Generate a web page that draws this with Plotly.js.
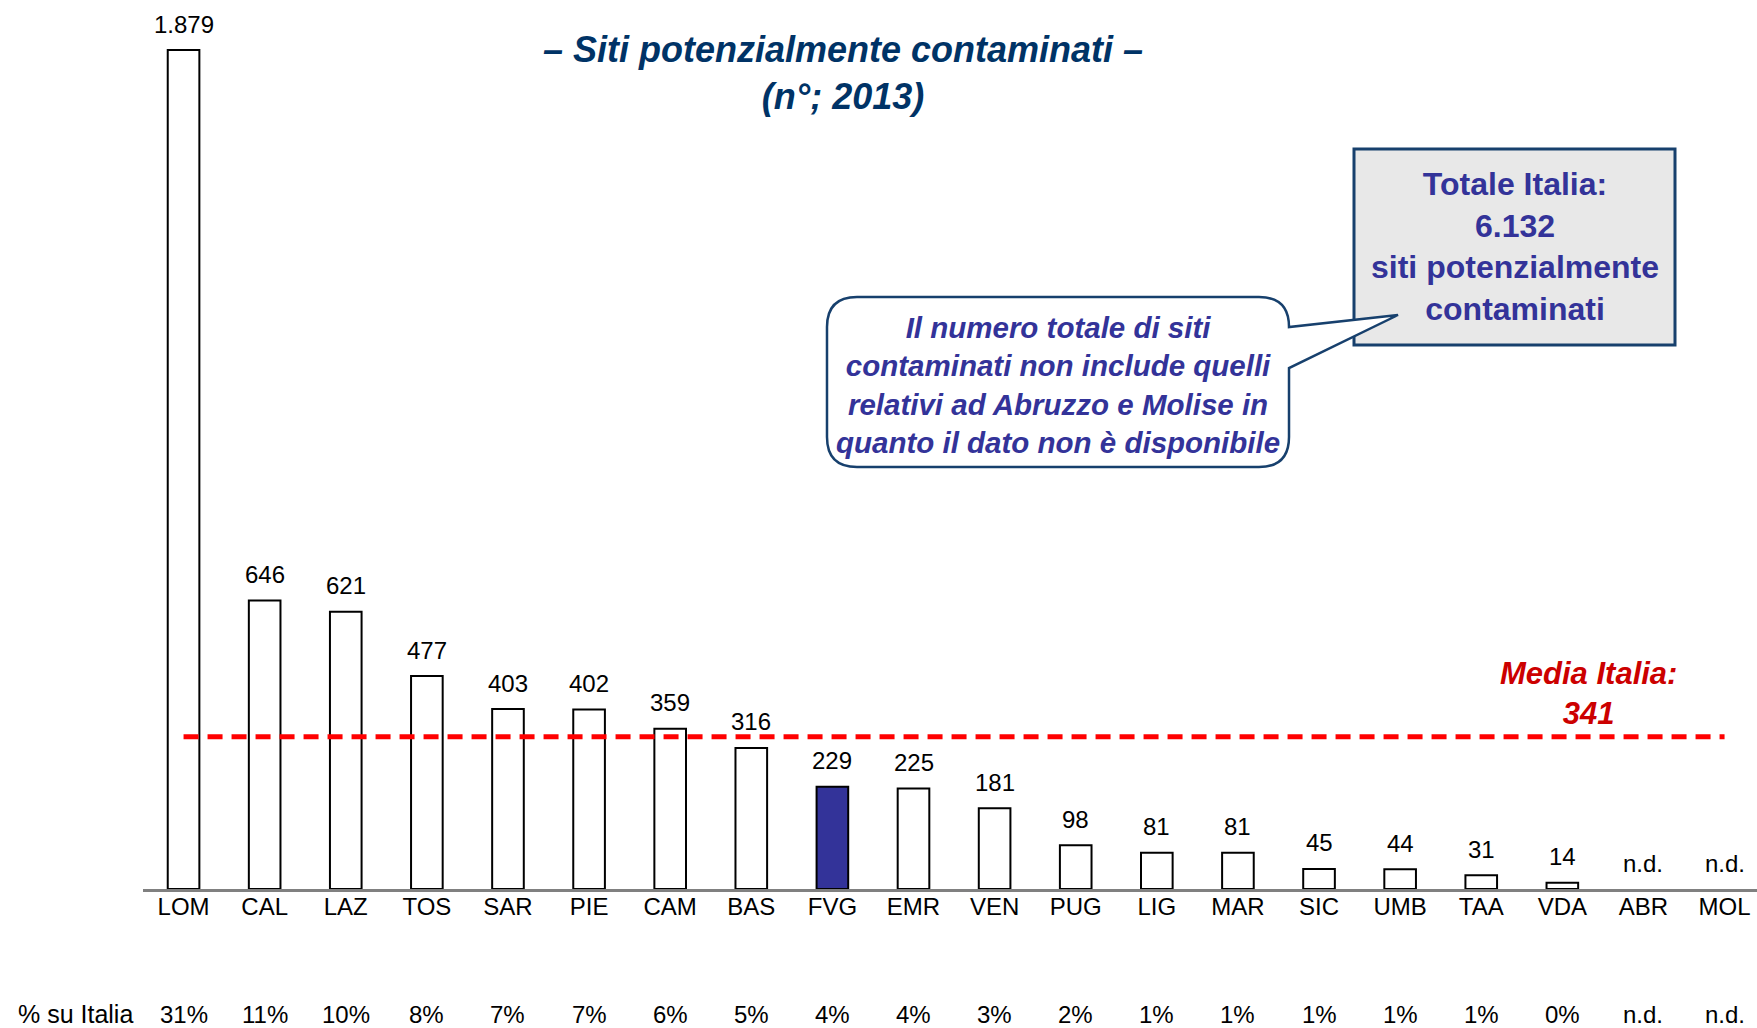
<!DOCTYPE html>
<html>
<head>
<meta charset="utf-8">
<script src="https://cdn.plot.ly/plotly-3.0.1.min.js"></script>
<style>html,body{margin:0;padding:0;background:#fff;}#chart{width:1757px;height:1028px;}</style>
</head>
<body>
<div id="chart"></div>
<script>
// ---- data ----
const regions = ["LOM","CAL","LAZ","TOS","SAR","PIE","CAM","BAS","FVG","EMR","VEN","PUG","LIG","MAR","SIC","UMB","TAA","VDA","ABR","MOL"];
const sites   = [1879,646,621,477,403,402,359,316,229,225,181,98,81,81,45,44,31,14,null,null];
const shareLabels = ["31%","11%","10%","8%","7%","7%","6%","5%","4%","4%","3%","2%","1%","1%","1%","1%","1%","0%","n.d.","n.d."];
const highlightRegion = "FVG";
const meanItaly = 341;
const totalItaly = 6132;
const titleLines = ["– Siti potenzialmente contaminati –", "(n°; 2013)"];
const noteLines = ["Il numero totale di siti", "contaminati non include quelli", "relativi ad Abruzzo e Molise in", "quanto il dato non è disponibile"];

// ---- helpers ----
const FONT = "Liberation Sans, Arial, sans-serif";
const PL = 143, PW = 1614, PH = 889;          // plot area in pixels
const px = x => (x - PL) / PW;
const py = y => (PH - y) / PH;
const fmt = v => String(v).replace(/\B(?=(\d{3})+(?!\d))/g, ".");

const barTrace = {
  type: "bar",
  x: regions,
  y: sites,
  width: 0.39,
  marker: {
    color: regions.map(r => r === highlightRegion ? "#333399" : "#FFFFFF"),
    line: {color: "#000000", width: 2}
  },
  hoverinfo: "skip"
};

const meanTrace = {
  type: "scatter",
  mode: "lines",
  x: [regions[0], regions[regions.length - 1]],
  y: [meanItaly, meanItaly],
  line: {color: "#FF0000", width: 5, dash: "15px,9px"},
  hoverinfo: "skip"
};

const annotations = [];
regions.forEach((r, i) => {
  annotations.push({
    x: r, y: sites[i] == null ? 0 : sites[i], xref: "x", yref: "y",
    text: sites[i] == null ? "n.d." : fmt(sites[i]),
    showarrow: false, yanchor: "middle", yshift: 26,
    font: {family: FONT, size: 24, color: "#000"}
  });
  annotations.push({
    x: r, y: py(1014), xref: "paper", yref: "paper",
    text: shareLabels[i], showarrow: false, yanchor: "middle",
    font: {family: FONT, size: 24, color: "#000"}
  });
});
// percent labels follow category x positions
annotations.forEach((a, k) => { if (k % 2 === 1) { a.xref = "x"; a.x = regions[(k - 1) / 2]; } });
annotations.push({
  x: px(135), y: py(1014), xref: "paper", yref: "paper",
  text: "% su Italia", showarrow: false, xanchor: "right", yanchor: "middle",
  font: {family: FONT, size: 25, color: "#000"}
});
annotations.push({
  x: px(1588), y: py(693), xref: "paper", yref: "paper",
  text: "<b><i>Media Italia:<br>" + fmt(meanItaly) + "</i></b>",
  showarrow: false, xanchor: "center", yanchor: "middle", align: "center",
  font: {family: FONT, size: 31, color: "#CC0000"}
});
annotations.push({
  x: px(1514.5), y: py(246), xref: "paper", yref: "paper",
  text: "<b>Totale Italia:<br>" + fmt(totalItaly) + "<br>siti potenzialmente<br>contaminati</b>",
  showarrow: false, xanchor: "center", yanchor: "middle", align: "center",
  font: {family: FONT, size: 32, color: "#333399"}
});
annotations.push({
  x: px(1058), y: py(385), xref: "paper", yref: "paper",
  text: "<b><i>" + noteLines.join("<br>") + "</i></b>",
  showarrow: false, xanchor: "center", yanchor: "middle", align: "center",
  font: {family: FONT, size: 29.5, color: "#333399"}
});

// callout bubble path (pixel -> paper)
const P = (x, y) => px(x).toFixed(5) + "," + py(y).toFixed(5);
const bubblePath =
  "M" + P(857,297) + " L" + P(1259,297) + " Q" + P(1289,297) + " " + P(1289,327) +
  " L" + P(1398,315) + " L" + P(1289,368) + " L" + P(1289,437) +
  " Q" + P(1289,467) + " " + P(1259,467) + " L" + P(857,467) +
  " Q" + P(827,467) + " " + P(827,437) + " L" + P(827,327) +
  " Q" + P(827,297) + " " + P(857,297) + " Z";

const shapes = [
  {type: "rect", xref: "paper", yref: "paper",
   x0: px(1354), x1: px(1675), y0: py(345), y1: py(149),
   fillcolor: "#E8E8E8", line: {color: "#17406D", width: 3}},
  {type: "path", xref: "paper", yref: "paper", path: bubblePath,
   fillcolor: "#FFFFFF", line: {color: "#17406D", width: 2.5}}
];

const layout = {
  width: 1757, height: 1028,
  margin: {l: PL, r: 0, t: 0, b: 1028 - PH, pad: 0},
  paper_bgcolor: "#FFFFFF", plot_bgcolor: "#FFFFFF",
  showlegend: false,
  title: {
    text: "<b><i>" + titleLines.join("<br>") + "</i></b>",
    x: 843 / 1757, xanchor: "center", xref: "container",
    y: 1 - 62 / 1028, yanchor: "middle", yref: "container",
    font: {family: FONT, size: 36, color: "#003366"}
  },
  xaxis: {
    type: "category", range: [-0.5, 19.4],
    showline: true, linecolor: "#808080", linewidth: 3,
    ticks: "", showgrid: false, zeroline: false,
    ticklabelstandoff: -6,
    tickfont: {family: FONT, size: 24, color: "#000"},
    fixedrange: true
  },
  yaxis: {range: [0, 1991], visible: false, fixedrange: true},
  annotations: annotations,
  shapes: shapes
};

Plotly.newPlot("chart", [barTrace, meanTrace], layout, {displayModeBar: false, staticPlot: true});
</script>
</body>
</html>
